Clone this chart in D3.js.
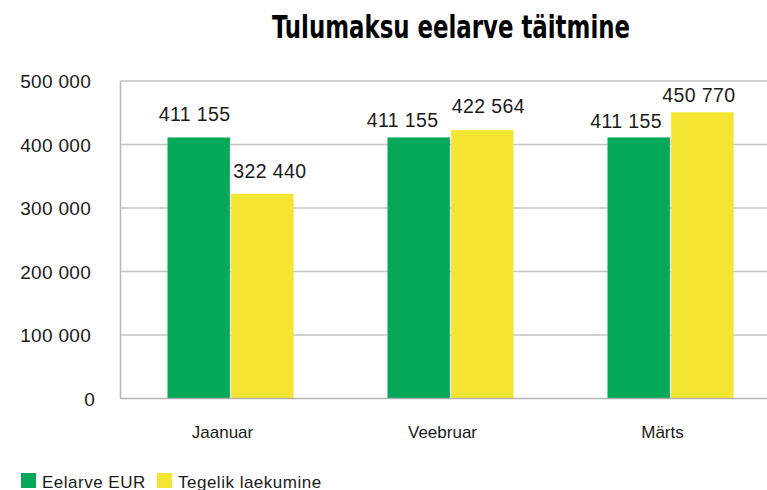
<!DOCTYPE html>
<html>
<head>
<meta charset="utf-8">
<script src="https://cdn.jsdelivr.net/npm/d3@7"></script>
<style>
  html, body { margin: 0; padding: 0; background: #fff; }
  svg { display: block; }
  text { font-family: "Liberation Sans", Arial, sans-serif; fill: #1a1a1a; }
</style>
</head>
<body>
<svg id="chart" width="767" height="490"></svg>
<script>
// ---- Data ----
const categories = ["Jaanuar", "Veebruar", "Märts"];
const seriesNames = ["Eelarve EUR", "Tegelik laekumine"];
const eelarve = [411155, 411155, 411155];
const tegelik = [322440, 422564, 450770];
const yTicks = [0, 100000, 200000, 300000, 400000, 500000];
const title = "Tulumaksu eelarve täitmine";

// ---- Layout / style (not data) ----
const colors = ["#05a858", "#f5e533"];
// per-label nudges [dx, gap above bar top] matching reference placement
const labelNudge = [
  [[-4, 16], [7.5, 16]],
  [[-16, 10], [6, 17]],
  [[-12.5, 9], [-3.5, 10.6]]
];

const svg = d3.select("#chart");
const mLeft = 120.5, mTop = 81, mBottom = 398.5, mRight = 780.5;

const y = d3.scaleLinear().domain([0, 500000]).range([mBottom, mTop]);
const x = d3.scalePoint().domain(categories).range([mLeft, mRight]).padding(0.5);
const xs = d3.scaleBand().domain(seriesNames).range([-63, 63]).paddingInner(0.02);

const fmt = v => d3.format(",")(v).replace(/,/g, " ");

// title
svg.append("text")
  .attr("x", 451).attr("y", 38)
  .attr("text-anchor", "middle")
  .attr("textLength", 358).attr("lengthAdjust", "spacingAndGlyphs")
  .style("font-family", "'Liberation Sans Narrow', 'DejaVu Sans Condensed', 'Liberation Sans', sans-serif")
  .style("font-weight", "bold")
  .style("font-size", "32px")
  .style("fill", "#000")
  .text(title);

// gridlines
svg.append("g").selectAll("line")
  .data(yTicks.filter(d => d > 0))
  .join("line")
  .attr("x1", mLeft).attr("x2", 767)
  .attr("y1", d => y(d)).attr("y2", d => y(d))
  .attr("stroke", "#c4c4c4").attr("stroke-width", 1.5);

// y axis labels
svg.append("g").selectAll("text")
  .data(yTicks)
  .join("text")
  .attr("x", d => d === 0 ? 95 : 91)
  .attr("y", d => y(d) + 7)
  .attr("text-anchor", "end")
  .style("font-size", "19px")
  .style("letter-spacing", "0.3px")
  .text(d => fmt(d));

// bars
const data = categories.map((c, i) => ({ c, i, vals: [eelarve[i], tegelik[i]] }));
const groups = svg.append("g").selectAll("g")
  .data(data).join("g")
  .attr("transform", d => `translate(${x(d.c)},0)`);

groups.selectAll("rect")
  .data(d => d.vals.map((v, k) => ({ v, k, i: d.i })))
  .join("rect")
  .attr("x", d => xs(seriesNames[d.k]))
  .attr("width", xs.bandwidth())
  .attr("y", d => y(d.v))
  .attr("height", d => mBottom - y(d.v))
  .attr("fill", d => colors[d.k]);

groups.selectAll("text.lbl")
  .data(d => d.vals.map((v, k) => ({ v, k, i: d.i })))
  .join("text")
  .attr("class", "lbl")
  .attr("x", d => xs(seriesNames[d.k]) + xs.bandwidth() / 2 + labelNudge[d.i][d.k][0])
  .attr("y", d => y(d.v) - labelNudge[d.i][d.k][1])
  .attr("text-anchor", "middle")
  .style("font-size", "19.5px")
  .style("letter-spacing", "0.4px")
  .text(d => fmt(d.v));

// axes lines
svg.append("line")
  .attr("x1", mLeft).attr("x2", mLeft).attr("y1", mTop).attr("y2", mBottom)
  .attr("stroke", "#b8b8b8").attr("stroke-width", 1.5);
svg.append("line")
  .attr("x1", mLeft).attr("x2", 767).attr("y1", mBottom).attr("y2", mBottom)
  .attr("stroke", "#a8a8a8").attr("stroke-width", 1.5)
  .attr("stroke-opacity", 0.85);

// x labels
svg.append("g").selectAll("text")
  .data(categories)
  .join("text")
  .attr("x", d => x(d) - 8)
  .attr("y", 438)
  .attr("text-anchor", "middle")
  .style("font-size", "17px")
  .text(d => d);

// legend
const legX = [21, 157];
const leg = svg.append("g").selectAll("g")
  .data(seriesNames).join("g")
  .attr("transform", (d, i) => `translate(${legX[i]},473)`);
leg.append("rect").attr("width", 15).attr("height", 15).attr("fill", (d, i) => colors[i]);
leg.append("text").attr("x", 21).attr("y", 14.5)
  .style("font-size", "17px").style("letter-spacing", "0.5px").text(d => d);
</script>
</body>
</html>
